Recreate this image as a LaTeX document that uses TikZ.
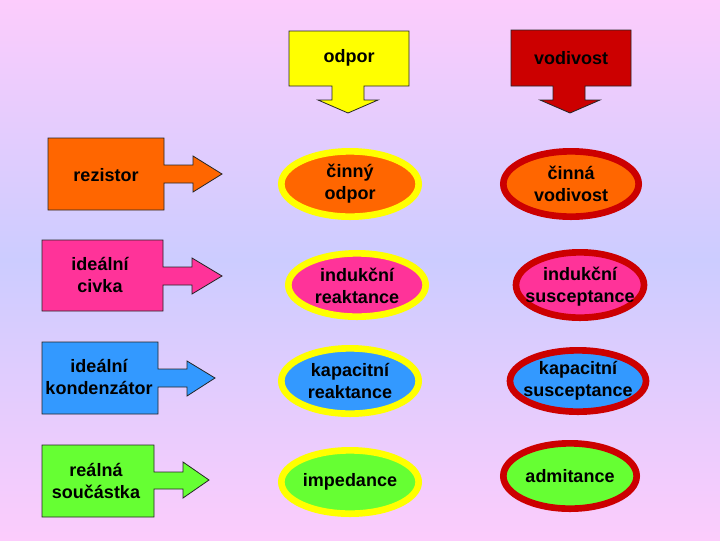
\documentclass[tikz,border=0pt]{standalone}
\usepackage{fontspec}
\setmainfont{Liberation Sans}
\usetikzlibrary{shapes.geometric}
\definecolor{bgpink}{RGB}{252,204,252}
\definecolor{bgblue}{RGB}{204,204,255}
\definecolor{corange}{RGB}{255,102,0}
\definecolor{cpink}{RGB}{255,51,153}
\definecolor{cblue}{RGB}{51,153,255}
\definecolor{cgreen}{RGB}{102,255,51}
\definecolor{cyellow}{RGB}{255,255,0}
\definecolor{cred}{RGB}{204,0,0}
\tikzset{
  shapebox/.style={draw=black!85, line width=0.6pt, line join=miter},
  lbl/.style={font=\fontsize{13.5}{16.5}\selectfont\bfseries, align=center, inner sep=0pt, text=black},
  ell/.style={ellipse, inner sep=0pt, line width=5pt},
  yell/.style={ell, draw=cyellow},
  rell/.style={ell, draw=cred},
}
\begin{document}
\begin{tikzpicture}[x=0.75pt,y=-0.75pt]
\useasboundingbox (0,0) rectangle (720,540);
\begin{scope}[y=0.75pt]
\shade[top color=bgpink, bottom color=bgblue] (0,-260) rectangle (720,0);
\shade[top color=bgblue, bottom color=bgpink] (0,-540) rectangle (720,-260);
\end{scope}

% top callouts
\draw[shapebox, fill=cyellow] (289,31) -- (409,31) -- (409,86) -- (364,86) -- (364,100) -- (378,100) -- (348,113) -- (318,100) -- (332,100) -- (332,86) -- (289,86) -- cycle;
\node[lbl] (odpor) at (349,58) {odpor};
\draw[shapebox, fill=cred] (511,30) -- (631,30) -- (631,86) -- (585,86) -- (585,100) -- (600,100) -- (570,113) -- (540,100) -- (553,100) -- (553,86) -- (511,86) -- cycle;
\node[lbl] (vodivost) at (571,58) {vodivost};

% left callouts
\draw[shapebox, fill=corange] (48,138) -- (164,138) -- (164,165) -- (193,165) -- (193,156) -- (222,174) -- (193,192) -- (193,183) -- (164,183) -- (164,210) -- (48,210) -- cycle;
\node[lbl] (rez) at (106,175) {rezistor};
\draw[shapebox, fill=cpink] (42,240) -- (163,240) -- (163,267) -- (192,267) -- (192,258) -- (222,276) -- (192,294) -- (192,285) -- (163,285) -- (163,311) -- (42,311) -- cycle;
\node[lbl] (civ) at (100,275) {ideální\\civka};
\draw[shapebox, fill=cblue] (42,342) -- (158,342) -- (158,369) -- (187,369) -- (187,361) -- (215,378) -- (187,396) -- (187,387) -- (158,387) -- (158,414) -- (42,414) -- cycle;
\node[lbl] (kon) at (99,377) {ideální\\kondenzátor};
\draw[shapebox, fill=cgreen] (42,445) -- (154,445) -- (154,472) -- (183,472) -- (183,462) -- (209,480) -- (183,498) -- (183,489) -- (154,489) -- (154,517) -- (42,517) -- cycle;
\node[lbl] (sou) at (96,481) {reálná\\součástka};

% ellipses
\node[yell, fill=corange, minimum width=103pt, minimum height=49pt] (e11) at (350,184) {};
\node[lbl] (t11) at (e11) {činný\\odpor};
\node[rell, fill=corange, minimum width=101.5pt, minimum height=49pt] (e12) at (571,184) {};
\node[lbl] (t12) at (e12) {činná\\vodivost};
\node[yell, fill=cpink, minimum width=103pt, minimum height=47.5pt] (e21) at (357,285) {};
\node[lbl] (t21) at ([yshift=-1pt]e21) {indukční\\reaktance};
\node[rell, fill=cpink, minimum width=96pt, minimum height=49pt] (e22) at (580,285) {};
\node[lbl] (t22) at ([yshift=-1pt]e22) {indukční\\susceptance};
\node[yell, fill=cblue, minimum width=103pt, minimum height=49pt] (e31) at (350,381) {};
\node[lbl] (t31) at (e31) {kapacitní\\reaktance};
\node[rell, fill=cblue, minimum width=102pt, minimum height=46pt] (e32) at (578,381) {};
\node[lbl] (t32) at (e32) {kapacitní\\susceptance};
\node[yell, fill=cgreen, minimum width=103pt, minimum height=47.5pt] (e41) at (350,482) {};
\node[lbl] (t41) at (e41) {impedance};
\node[rell, fill=cgreen, minimum width=100pt, minimum height=49pt] (e42) at (570,476) {};
\node[lbl] (t42) at (e42) {admitance};
\end{tikzpicture}
\end{document}
